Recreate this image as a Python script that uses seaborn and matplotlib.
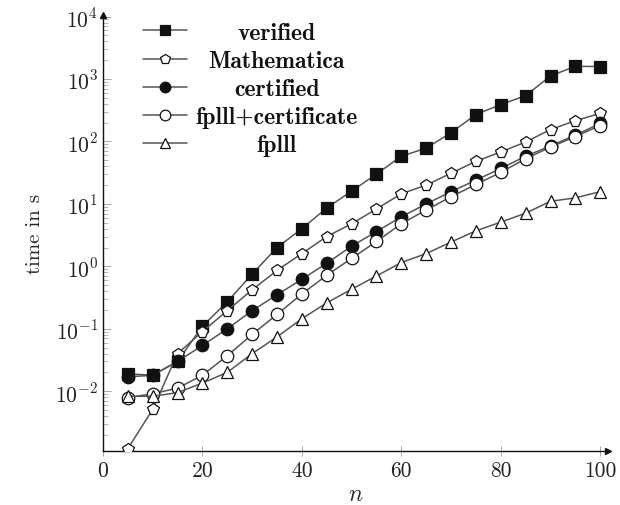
import numpy as np
import pandas as pd
import seaborn as sns
from matplotlib import pyplot as plt
from matplotlib.ticker import FixedLocator, FuncFormatter, LogLocator, NullFormatter

n = [5, 10, 15, 20, 25, 30, 35, 40, 45, 50, 55, 60, 65, 70, 75, 80, 85, 90, 95, 100]

verified = [0.019, 0.018, 0.030, 0.11, 0.27, 0.75, 2.0, 4.0, 8.6, 16, 30, 58, 78, 138,
            270, 390, 540, 1120, 1600, 1580]
mathematica = [0.0012, 0.0051, 0.040, 0.09, 0.195, 0.42, 0.86, 1.6, 3.0, 4.8, 8.3, 14.5,
               20, 31, 48, 68, 98, 155, 215, 282]
certified = [0.017, 0.018, 0.030, 0.054, 0.10, 0.195, 0.35, 0.62, 1.12, 2.1, 3.6, 6.2,
             10, 15.7, 24, 37, 58, 85, 126, 195]
fplll_cert = [0.0079, 0.0091, 0.0112, 0.018, 0.037, 0.081, 0.17, 0.36, 0.72, 1.34, 2.5,
              4.8, 8.0, 13, 20.5, 32, 53, 81, 120, 180]
fplll = [0.0083, 0.0083, 0.0095, 0.0135, 0.020, 0.040, 0.074, 0.145, 0.26, 0.43, 0.70,
         1.15, 1.6, 2.45, 3.7, 5.1, 7.1, 11, 12.5, 15.7]

labels = ['verified', 'Mathematica', 'certified', 'fplll+certificate', 'fplll']
series = [verified, mathematica, certified, fplll_cert, fplll]
markers = ['s', 'p', 'o', 'o', '^']
faces = ['#111111', 'white', '#111111', 'white', 'white']
sizes = [9, 8.5, 9, 9, 8]

rows = []
for lab, vals in zip(labels, series):
    for x, y in zip(n, vals):
        rows.append({'n': x, 'time': y, 'solver': lab})
df = pd.DataFrame(rows)

sns.set_style('ticks')
plt.rcParams['font.family'] = ['cmr10', 'DejaVu Serif']
plt.rcParams['mathtext.fontset'] = 'cm'
plt.rcParams['axes.unicode_minus'] = False

fig = plt.figure(figsize=(6.2, 5.06), dpi=100)
ax = fig.add_axes([0.166, 0.107, 0.815, 0.862])

for lab, m, fc, ms in zip(labels, markers, faces, sizes):
    sns.lineplot(data=df[df['solver'] == lab], x='n', y='time', ax=ax, label=lab,
                 color='#555555', lw=1.1, marker=m, markersize=ms, markerfacecolor=fc,
                 markeredgecolor='#111111', markeredgewidth=0.9, zorder=3)

ax.set_yscale('log')
ax.set_xlim(0, 101.6)
ax.set_ylim(10 ** -2.955, 10 ** 4.03)

ax.xaxis.set_major_locator(FixedLocator([0, 20, 40, 60, 80, 100]))
ax.yaxis.set_major_locator(FixedLocator([1e-2, 1e-1, 1e0, 1e1, 1e2, 1e3, 1e4]))
ax.yaxis.set_major_formatter(FuncFormatter(lambda v, p: r'$10^{%d}$' % round(np.log10(v))))
ax.yaxis.set_minor_locator(LogLocator(base=10, subs=np.arange(2, 10), numticks=20))
ax.yaxis.set_minor_formatter(NullFormatter())

ax.tick_params(axis='both', labelsize=15.5, colors='#222222')
ax.tick_params(axis='x', direction='inout', length=7, width=0.6, color='#999999')
ax.tick_params(axis='y', which='major', direction='in', length=6, width=0.6, color='#999999')
ax.tick_params(axis='y', which='minor', direction='in', length=3.5, width=0.5, color='#999999')

for s in ['top', 'right']:
    ax.spines[s].set_visible(False)
for s in ['left', 'bottom']:
    ax.spines[s].set_color('#111111')
    ax.spines[s].set_linewidth(1.0)
ax.plot(1, 0, '>', color='#111111', ms=5, transform=ax.transAxes, clip_on=False)
ax.plot(0, 1, '^', color='#111111', ms=5, transform=ax.transAxes, clip_on=False)

ax.set_xlabel('$n$', fontsize=17, labelpad=2)
ax.set_ylabel('time in s', fontsize=15, labelpad=8)

# legend: pgfplots style, labels centred in their column
leg = ax.legend(loc='upper left', bbox_to_anchor=(0.055, 1.011), frameon=False,
                prop={'family': 'cmb10', 'size': 17}, handlelength=1.9,
                labelspacing=0.26, handletextpad=0.35, borderpad=0, markerscale=0.85)
fig.canvas.draw()
boxes = [t.get_window_extent() for t in leg.get_texts()]
left = min(b.x0 for b in boxes)
maxw = max(b.width for b in boxes)
inv = fig.transFigure.inverted()
for t, b in zip(leg.get_texts(), boxes):
    fx, fy = inv.transform((left + maxw / 2, (b.y0 + b.y1) / 2))
    fig.text(fx, fy, t.get_text(), ha='center', va='center', family='cmb10',
             fontsize=17, color='#111111')
    t.set_visible(False)

plt.savefig('out.png', dpi=100)
